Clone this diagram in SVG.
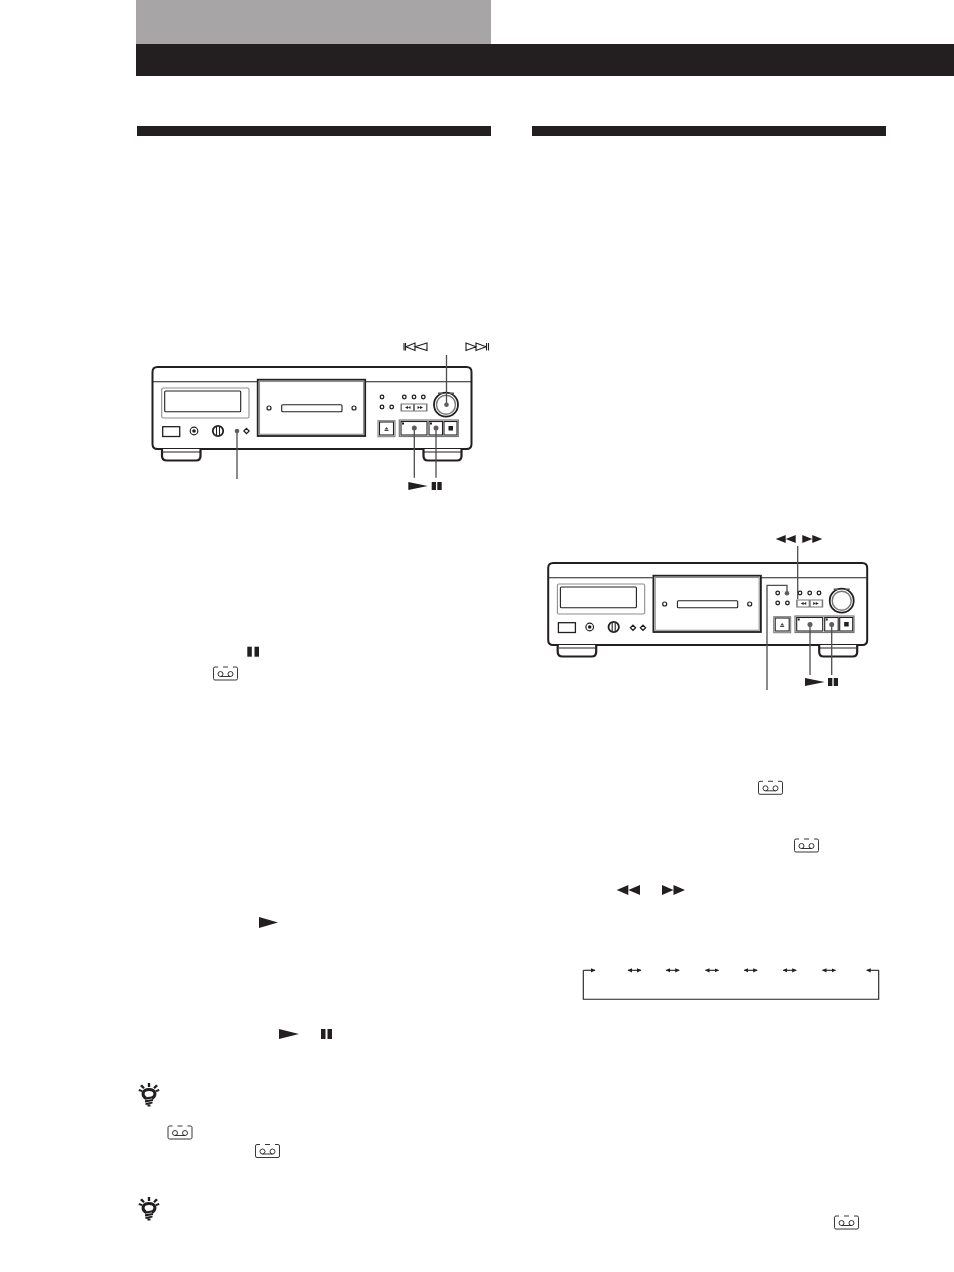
<svg xmlns="http://www.w3.org/2000/svg" xmlns:xlink="http://www.w3.org/1999/xlink" width="954" height="1272" viewBox="0 0 954 1272">
<style>
.o{fill:#fff;stroke:#231f20;stroke-width:1.200}
.n{fill:none;stroke:#231f20;stroke-width:1.100}
.k{fill:#231f20}
.g{fill:#5f5d5d}
.gl{fill:none;stroke:#8f8d8d;stroke-width:1.100}
.lead{fill:none;stroke:#4f4d4d;stroke-width:1.300}
.dot{fill:#fff;stroke:#231f20;stroke-width:1.300}
.flow{fill:none;stroke:#231f20;stroke-width:1.100}
.thin{fill:none;stroke:#231f20;stroke-width:.9}
</style>
<defs>
<marker id="ah" markerWidth="5" markerHeight="5" refX="4" refY="2.5" orient="auto-start-reverse" markerUnits="userSpaceOnUse"><path d="M0 .4L4.500 2.500L0 4.600Z" fill="#231f20"/></marker>
<g id="cass">
<path class="thin" d="M4.500 0H1.500Q0 0 0 1.500V11.500Q0 13 1.500 13H22.500Q24 13 24 11.500V1.500Q24 0 22.500 0H19.500M9.500 0H14.500"/>
<circle class="thin" cx="7" cy="7" r="2.500"/><circle class="thin" cx="17" cy="7" r="2.500"/><path class="thin" d="M7 9.500H17"/>
</g>
<g id="bulb">
<path class="k" d="M-1.200 0h2.400v4h-2.400zM-9 3l2-1.500 2.800 3-1.600 1.400zM9 3l-2-1.500-2.800 3 1.600 1.400zM-10.500 8l.6-2 3.500 1.200-.6 1.800zM10.500 8l-.6-2-3.500 1.200.6 1.800z"/>
<path d="M-3 15.500C-8 12-6.500 6.500 0 6.500S8 12 3 15.500" fill="none" stroke="#231f20" stroke-width="3"/>
<path class="k" d="M-4 14.500L4 13.300V15.300L-4 16.800ZM-4 17.300L4 16V18L-4 19.500ZM-3.500 20L3.500 18.800V20.600L-3.500 22ZM-1.500 21.500H1.500V23.500H-1.500Z"/>
</g>
<g id="deck">
<path d="M152.500 372Q152.500 367 157.500 367H466.500Q471.500 367 471.500 372V444Q471.500 449 466.500 449H157.500Q152.500 449 152.500 444Z" fill="#fff" stroke="#231f20" stroke-width="2"/>
<path class="n" d="M153 381.700H257M365.500 381.700H471"/>
<path d="M162 449V456Q162 460.500 167 460.500H196Q200.500 460.500 200.500 456V449" fill="#fff" stroke="#231f20" stroke-width="2.200"/>
<path d="M423.500 449V456Q423.500 460.500 428 460.500H457Q461.500 460.500 461.500 456V449" fill="#fff" stroke="#231f20" stroke-width="2.200"/>
<path class="n" d="M163 452H200M424 452H461"/>
<rect x="257.700" y="379.700" width="107.500" height="56.300" fill="#fff" stroke="#231f20" stroke-width="1.800"/>
<rect class="gl" x="259.500" y="381.500" width="104" height="52.800"/>
<rect class="n" x="281.700" y="404.700" width="60.300" height="7" rx="1"/>
<circle class="o" cx="269" cy="408" r="2"/><circle class="o" cx="354" cy="408" r="2"/>
<rect class="gl" x="161.700" y="388" width="87.300" height="30" rx="1.500"/>
<rect class="n" x="164.700" y="391" width="76" height="20.700" rx="1"/>
<rect x="162.700" y="426.700" width="17" height="9.800" fill="#fff" stroke="#231f20" stroke-width="1.300"/>
<circle class="o" cx="194" cy="431" r="3.800"/><circle class="k" cx="194" cy="431" r="1.800"/>
<circle cx="218" cy="431" r="5.200" fill="#fff" stroke="#231f20" stroke-width="1.800"/><path class="n" d="M216.500 426.500V435.500M219.500 426.500V435.500"/>
<g id="pads">
<circle class="dot" cx="382" cy="407" r="1.800"/><circle class="dot" cx="391.700" cy="407" r="1.800"/><circle class="dot" cx="382" cy="397" r="1.800"/>
<circle class="dot" cx="404.300" cy="397" r="1.800"/><circle class="dot" cx="414" cy="397" r="1.800"/><circle class="dot" cx="423.300" cy="397" r="1.800"/>
</g>
<rect x="400.500" y="403.500" width="27" height="8" fill="#777"/>
<rect x="402" y="404.500" width="11" height="6" fill="#fff"/><rect x="415" y="404.500" width="11" height="6" fill="#fff"/>
<path class="k" d="M405 407.500l3-1.500v3zM408 407.500l2.500-1.500v3zM423 407.500l-3-1.500v3zM420 407.500l-2.500-1.500v3z"/>
<circle cx="446" cy="404.700" r="12" fill="#fff" stroke="#231f20" stroke-width="1.800"/>
<circle cx="446" cy="404.700" r="9.500" fill="none" stroke="#777" stroke-width="1.400"/>
<path d="M438 392.500h5v1.500h-5zM449 392.500h5v1.500h-5z" fill="#555"/>
<rect x="378" y="420.700" width="17" height="16" fill="#fff" stroke="#777" stroke-width="1"/>
<rect class="n" x="379.500" y="422" width="14" height="13"/>
<path fill="#444" d="M386.500 427l2 2.500h-4zM384.500 430h4v1h-4z"/>
<rect x="399.300" y="420" width="59" height="16.500" fill="#fff" stroke="#777" stroke-width="1.200"/>
<rect class="n" x="401" y="421.500" width="26" height="13.500"/><rect class="n" x="429" y="421.500" width="13.500" height="13.500"/><rect class="n" x="444" y="421.500" width="13" height="13.500"/>
<path class="k" d="M402 422.500h2v2h-2zM430 422.500h2v2h-2z"/>
<rect class="k" x="448.500" y="426" width="4.500" height="4.500"/>
</g>
</defs>

<g id="header">
<rect x="136" y="0" width="355" height="44" fill="#a7a5a5"/>
<rect x="136" y="44" width="818" height="32" fill="#231f20"/>
</g>
<g id="section-bars">
<rect x="137" y="126" width="354" height="10" fill="#231f20"/>
<rect x="532" y="126" width="354" height="10" fill="#231f20"/>
</g>

<g id="deck-left">
<use href="#deck"/>
<path d="M246.500 428.400L249.100 431L246.500 433.600L243.900 431Z" class="dot"/>
</g>
<g id="deck-right">
<use href="#deck" transform="translate(395.700 196)"/>
<path d="M633 625.200L635.600 627.800L633 630.400L630.400 627.800Z" class="dot"/>
<path d="M643 625.200L645.600 627.800L643 630.400L640.400 627.800Z" class="dot"/>
</g>

<g id="connectors">
<path class="lead" d="M446.500 355V404"/>
<circle class="g" cx="446.500" cy="404.700" r="2.300"/>
<path class="lead" d="M237 431V479"/><circle class="g" cx="237" cy="431" r="2.300"/>
<path class="lead" d="M414.300 428V477.700"/><circle class="g" cx="414.300" cy="428" r="2.500"/>
<path class="lead" d="M436 428V477.700"/><circle class="g" cx="436" cy="428" r="2.500"/>
<path class="lead" d="M767 690V585.300H787V592"/><circle class="g" cx="787" cy="593.300" r="2.300"/>
<path class="lead" d="M797.700 546V599"/>
<path class="lead" d="M810 625V675"/><circle class="g" cx="810" cy="624.500" r="2.500"/>
<path class="lead" d="M831.700 625V675"/><circle class="g" cx="831.700" cy="624.500" r="2.500"/>
<path class="flow" marker-end="url(#ah)" d="M583.300 970.300H595"/>
<path class="flow" d="M583.300 970.300V999.300H878.700V970.300"/>
<path class="flow" marker-end="url(#ah)" d="M878.700 970.300H866.700"/>
<path class="flow" marker-start="url(#ah)" marker-end="url(#ah)" d="M628 970.300H641"/>
<path class="flow" marker-start="url(#ah)" marker-end="url(#ah)" d="M666.200 970.300H679.200"/>
<path class="flow" marker-start="url(#ah)" marker-end="url(#ah)" d="M705.500 970.300H718.500"/>
<path class="flow" marker-start="url(#ah)" marker-end="url(#ah)" d="M744.200 970.300H757.200"/>
<path class="flow" marker-start="url(#ah)" marker-end="url(#ah)" d="M783.200 970.300H796.200"/>
<path class="flow" marker-start="url(#ah)" marker-end="url(#ah)" d="M822.500 970.300H835.500"/>
</g>

<g id="button-symbols" fill="#231f20">
<path d="M408.300 482L427.700 486L408.300 490Z"/><rect x="431.700" y="482" width="4.300" height="8"/><rect x="437.300" y="482" width="4.400" height="8"/>
<path d="M805 678L824.700 682L805 686Z"/><rect x="828" y="678" width="4.300" height="8"/><rect x="833.700" y="678" width="4.300" height="8"/>
<path d="M785.700 535L775.700 539L785.700 543ZM795.700 535L785.700 539L795.700 543Z"/>
<path d="M802.300 535L812.300 539L802.300 543ZM812.300 535L822.300 539L812.300 543Z"/>
<rect x="247.300" y="646.700" width="4.500" height="10"/><rect x="254.500" y="646.700" width="4.500" height="10"/>
<path d="M259 917L278 922.500L259 928Z"/>
<path d="M279 1029L299 1034L279 1039Z"/><rect x="321" y="1029" width="4.500" height="10"/><rect x="327.500" y="1029" width="4.500" height="10"/>
<path d="M628.300 885L616.700 890L628.300 895ZM640 885L628.300 890L640 895Z"/>
<path d="M662 885L673.500 890L662 895ZM673.500 885L685 890L673.500 895Z"/>
<path fill="none" stroke="#231f20" stroke-width="1.100" d="M404 343V350.500M405.500 343V350.500M406 346.800L415 343V350.500ZM415 346.800L427 343V350.500Z"/>
<path fill="none" stroke="#231f20" stroke-width="1.100" d="M466 343V350.500L476 346.800ZM476 343V350.500L486 346.800ZM486.500 343V350.500M488.500 343V350.500"/>
</g>

<g id="cassette-icons">
<use href="#cass" x="213.500" y="667"/>
<use href="#cass" x="758.500" y="781.300"/>
<use href="#cass" x="794.500" y="839"/>
<use href="#cass" x="168" y="1126"/>
<use href="#cass" x="255.500" y="1144.500"/>
<use href="#cass" x="834.500" y="1216"/>
</g>
<g id="tip-icons">
<use href="#bulb" transform="translate(149 1083)"/>
<use href="#bulb" transform="translate(149 1197)"/>
</g>
</svg>
